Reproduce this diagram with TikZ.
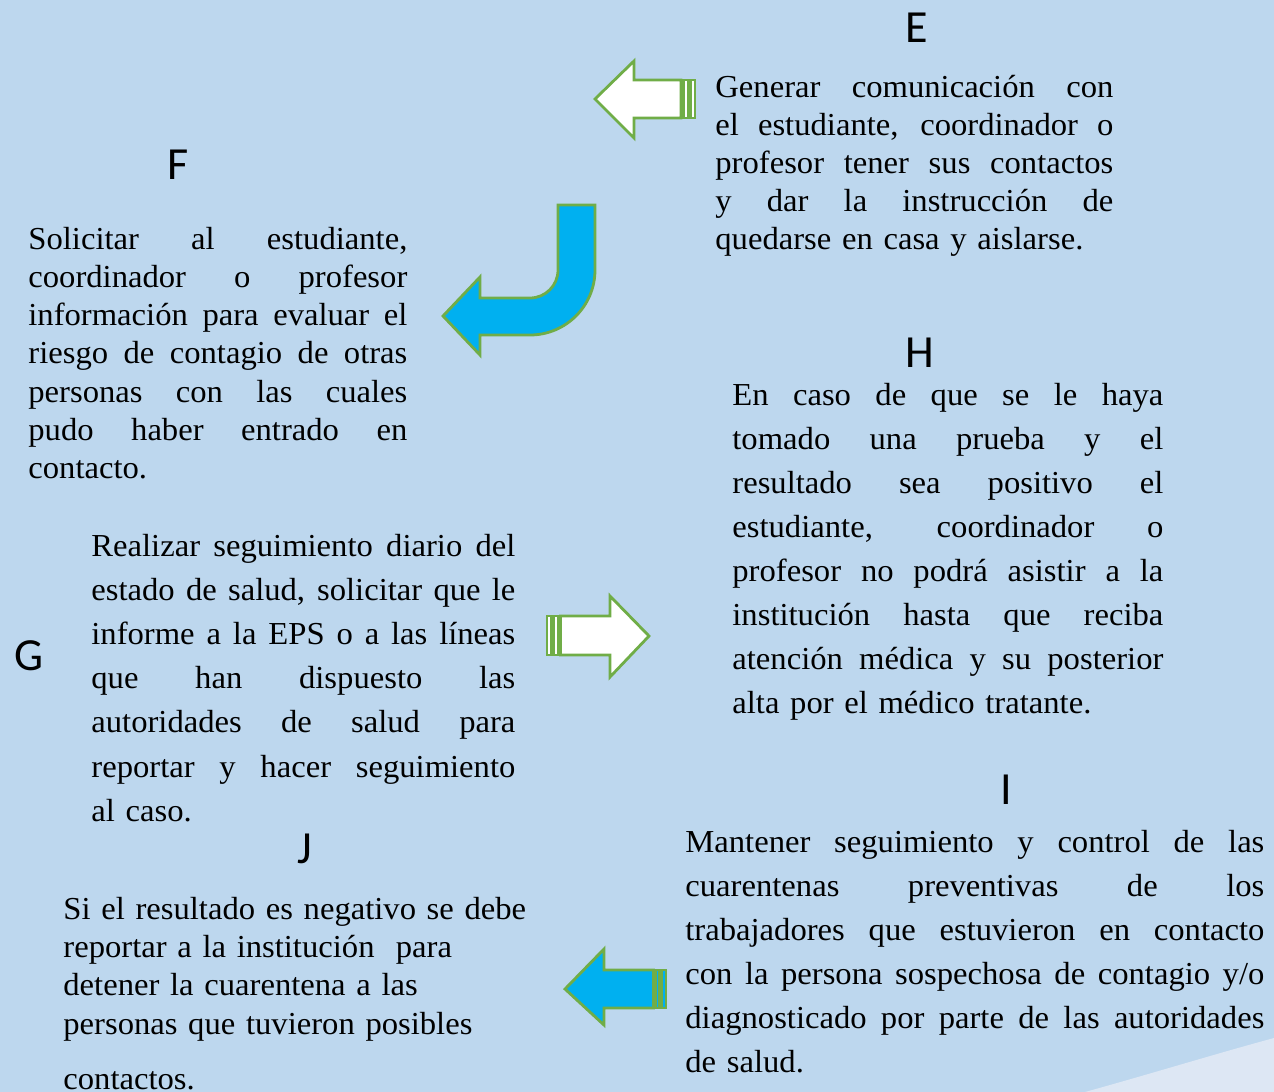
\documentclass[tikz,border=0pt]{standalone}
\usepackage{fontspec}
\setmainfont{Liberation Serif}[FakeStretch=1.02]
\newfontfamily\headfont{Carlito}
\definecolor{bgblue}{HTML}{BDD7EE}
\definecolor{arrowgreen}{HTML}{70AD47}
\definecolor{arrowblue}{HTML}{00B0F0}
\definecolor{swoosh}{HTML}{DDE7F4}
\tikzstyle{whitearrow} = [draw=arrowgreen, fill=white, line width=1.4pt]
\tikzstyle{bluearrow} = [draw=arrowgreen, fill=arrowblue, line width=1.4pt]
\tikzstyle{head} = [anchor=base, inner sep=0pt, font=\headfont\fontsize{23}{28}\selectfont]
\tikzstyle{body} = [anchor=base west, inner sep=0pt, align=left]
\newcommand{\bodyfont}[1]{\fontsize{16}{#1}\selectfont}
\newcommand{\jl}[1]{\makebox[\hsize][s]{\spaceskip=0pt\xspaceskip=0pt\relax #1}\\}

\begin{document}
\begin{tikzpicture}[x=0.5pt,y=-0.5pt]
	\useasboundingbox (0,0) rectangle (1274,1092);
	\fill[bgblue] (0,0) rectangle (1274,1092);
	\fill[swoosh] (1085,1092) .. controls (1150,1074) and (1215,1054) .. (1274,1038) -- (1274,1092) -- cycle;

	\draw[whitearrow] (595,99) -- (634,61) -- (634,80) -- (681,80) -- (681,118) -- (634,118) -- (634,138) -- cycle;
	\draw[whitearrow] (683.5,80) rectangle (688.5,118);
	\draw[whitearrow] (691,80) rectangle (695,118);

	\draw[bluearrow] (558,205) -- (595,205) -- (595,270) arc[start angle=0, end angle=90, radius=65]
		-- (480,335) -- (480,355) -- (443,316) -- (480,277) -- (480,298) -- (530,298)
		arc[start angle=90, end angle=0, radius=28] -- cycle;

	\draw[whitearrow] (649,636) -- (610,596) -- (610,616) -- (560.5,616) -- (560.5,655) -- (610,655) -- (610,677) -- cycle;
	\draw[whitearrow] (553.5,616) rectangle (558.5,655);
	\draw[whitearrow] (547,616) rectangle (551,655);

	\draw[bluearrow] (565,989) -- (604,949) -- (604,970) -- (653.5,970) -- (653.5,1008) -- (604,1008) -- (604,1025) -- cycle;
	\draw[bluearrow] (655.5,970) rectangle (659.5,1008);
	\draw[bluearrow] (662,970) rectangle (666,1008);

	\node[head] (hE) at (917,42) {E};
	\node[head] (hF) at (178,179) {F};
	\node[head] (hG) at (29,670) {G};
	\node[head] (hH) at (920,367) {H};
	\node[head] (hI) at (1006,804) {I};
	\node[head] (hJ) at (305,863) {J};

	\node[body, text width=199pt, font=\bodyfont{19}] (tE) at (715,97.5) {%
		\jl{Generar comunicación con}
		\jl{el estudiante, coordinador o}
		\jl{profesor tener sus contactos}
		\jl{y dar la instrucción de}
		quedarse en casa y aislarse.};
	\node[body, text width=189.5pt, font=\bodyfont{19.15}] (tF) at (28,249) {%
		\jl{Solicitar al estudiante,}
		\jl{coordinador o profesor}
		\jl{información para evaluar el}
		\jl{riesgo de contagio de otras}
		\jl{personas con las cuales}
		\jl{pudo haber entrado en}
		contacto.};
	\node[body, text width=212pt, font=\bodyfont{22.1}] (tG) at (91,556) {%
		\jl{Realizar seguimiento diario del}
		\jl{estado de salud, solicitar que le}
		\jl{informe a la EPS o a las líneas}
		\jl{que han dispuesto las}
		\jl{autoridades de salud para}
		\jl{reportar y hacer seguimiento}
		al caso.};
	\node[body, text width=215.5pt, font=\bodyfont{22.05}] (tH) at (732,405) {%
		\jl{En caso de que se le haya}
		\jl{tomado una prueba y el}
		\jl{resultado sea positivo el}
		\jl{estudiante, coordinador o}
		\jl{profesor no podrá asistir a la}
		\jl{institución hasta que reciba}
		\jl{atención médica y su posterior}
		alta por el médico tratante.};
	\node[body, text width=289.5pt, font=\bodyfont{22}] (tI) at (685,852) {%
		\jl{Mantener seguimiento y control de las}
		\jl{cuarentenas preventivas de los}
		\jl{trabajadores que estuvieron en contacto}
		\jl{con la persona sospechosa de contagio y/o}
		\jl{diagnosticado por parte de las autoridades}
		de salud.};
	\node[body, text width=250pt, font=\bodyfont{19.2}] (tJ) at (63,919) {%
		Si el resultado es negativo se debe\\
		reportar a la institución\ \ para\\
		detener la cuarentena a las\\
		personas que tuvieron posibles\\[8.3pt]
		contactos.};
\end{tikzpicture}
\end{document}
